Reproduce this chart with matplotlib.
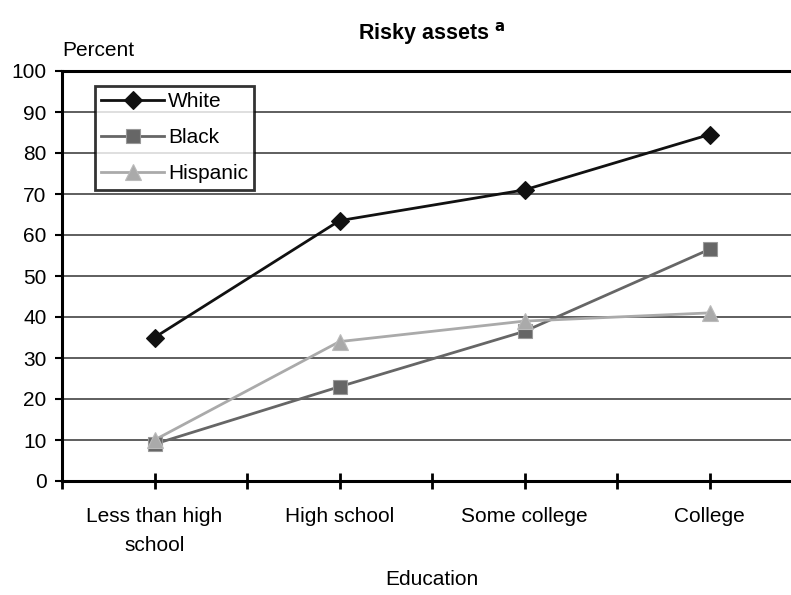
import matplotlib
matplotlib.use("Agg")
import matplotlib.pyplot as plt
from matplotlib.lines import Line2D

plt.rcParams['font.family'] = ['Liberation Sans', 'DejaVu Sans']

categories = ["Less than high\nschool", "High school", "Some college", "College"]
white = [35.0, 63.5, 71.0, 84.5]
black = [9.0, 23.0, 36.5, 56.5]
hispanic = [10.0, 34.0, 39.0, 41.0]
y_ticks = [0, 10, 20, 30, 40, 50, 60, 70, 80, 90, 100]

fig = plt.figure(figsize=(7.91, 5.95), dpi=100)
ax = fig.add_axes([62 / 791, 114 / 595, 740 / 791, 410 / 595])

x = list(range(len(categories)))

for yv in y_ticks[1:-1]:
    ax.axhline(yv, color="#333333", lw=1.1, zorder=1)

series = [
    ("White", white, "#111111", "D", 9.5, "#111111"),
    ("Black", black, "#666666", "s", 10, "#999999"),
    ("Hispanic", hispanic, "#aaaaaa", "^", 12, "#bbbbbb"),
]
handles = []
for i, (name, vals, col, mk, ms, mec) in enumerate(series):
    ax.plot(x, vals, color=col, lw=2.0, zorder=3 + i, solid_capstyle="butt")
    ax.plot(x, vals, ls="none", marker=mk, ms=ms, color=col, mec=mec,
            mew=0.8, zorder=6 + i)
    handles.append(Line2D([], [], color=col, lw=2.0, marker=mk, ms=ms,
                          mec=mec, mew=0.8))

ax.set_xlim(-0.5, 3.5)
ax.set_ylim(0, 100)
ax.set_yticks(y_ticks)
ax.set_yticklabels([str(v) for v in y_ticks], fontsize=15)
ax.set_xticks(x)
ax.set_xticklabels(categories, fontsize=15, linespacing=1.65)
ax.set_xticks([-0.5, 0.5, 1.5, 2.5, 3.5], minor=True)

ax.tick_params(axis="y", direction="out", length=5, width=1.5, pad=6)
ax.tick_params(axis="x", which="both", direction="inout", length=12,
               width=2, pad=13)

for side in ("left", "bottom", "top"):
    ax.spines[side].set_linewidth(2.2)
    ax.spines[side].set_color("black")
ax.spines["right"].set_visible(False)

ax.set_xlabel("Education", fontsize=15, labelpad=11)

fig.text(62 / 791, 1 - 50 / 595, "Percent", fontsize=15, ha="left",
         va="center")
fig.text(432 / 791, 1 - 34 / 595, r"Risky assets $^{\mathbf{a}}$",
         fontsize=15.5, fontweight="bold", ha="center", va="center")

leg = ax.legend(handles, [s[0] for s in series], loc="upper left",
                bbox_to_anchor=((95 - 62) / 740, (481 - 86) / 410),
                fontsize=15, frameon=True, fancybox=False, borderpad=0.3,
                handlelength=3.0, handletextpad=0.2, labelspacing=0.82,
                borderaxespad=0)
leg.get_frame().set_edgecolor("black")
leg.get_frame().set_linewidth(2)
leg.set_zorder(10)

fig.savefig("out.png", dpi=100)
